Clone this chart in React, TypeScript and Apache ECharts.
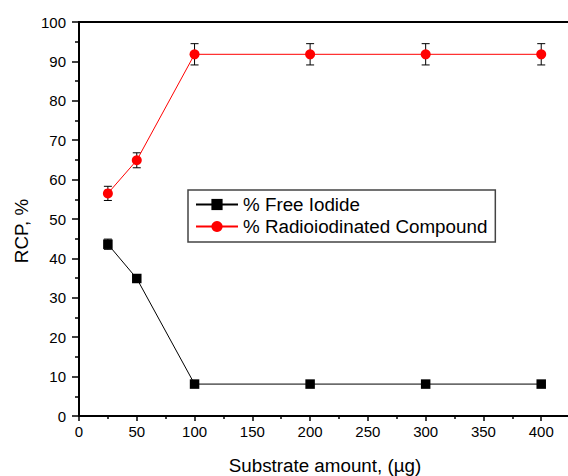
import React, { useEffect, useRef } from "react";
import * as echarts from "echarts";

const substrate = [25, 50, 100, 200, 300, 400];
const freeIodide = [43.6, 34.9, 8.1, 8.1, 8.1, 8.1];
const freeIodideErr = [1.3, 0.5, 0.3, 0.3, 0.3, 0.3];
const radioCompound = [56.5, 64.9, 91.8, 91.8, 91.8, 91.8];
const radioCompoundErr = [1.8, 1.9, 2.7, 2.7, 2.7, 2.7];
const seriesNames = ["% Free Iodide", "% Radioiodinated Compound"];
const xTitle = "Substrate amount, (\u00b5g)";
const yTitle = "RCP, %";

const FONT = "'Liberation Sans', Arial, sans-serif";

function errRender(params: any, api: any) {
  const x = api.value(0);
  const y = api.value(1);
  const e = api.value(2);
  const t = api.coord([x, y + e]);
  const b = api.coord([x, y - e]);
  const hw = 4;
  const st = { stroke: "#000", lineWidth: 1 };
  return {
    type: "group",
    children: [
      { type: "line", shape: { x1: t[0], y1: t[1], x2: b[0], y2: b[1] }, style: st },
      { type: "line", shape: { x1: t[0] - hw, y1: t[1], x2: t[0] + hw, y2: t[1] }, style: st },
      { type: "line", shape: { x1: b[0] - hw, y1: b[1], x2: b[0] + hw, y2: b[1] }, style: st },
    ],
  };
}

export default function App() {
  const ref = useRef<HTMLDivElement>(null);
  useEffect(() => {
    if (!ref.current) return;
    const chart = echarts.init(ref.current, null, { renderer: "svg" });
    const axisLine = { show: true, lineStyle: { color: "#000", width: 2 } };
    chart.setOption({
      animation: false,
      backgroundColor: "#fff",
      textStyle: { fontFamily: FONT },
      grid: {
        left: 79,
        top: 22,
        bottom: 60,
        right: -31,
        outerBoundsMode: "none",
        containLabel: false,
        show: true,
        borderColor: "#000",
        borderWidth: 2,
        backgroundColor: "transparent",
      },
      legend: {
        data: seriesNames,
        orient: "vertical",
        left: 188,
        top: 190,
        padding: [5, 8, 6, 7],
        itemWidth: 42,
        itemHeight: 14,
        itemGap: 3,
        borderColor: "#444",
        borderWidth: 1.5,
        textStyle: { fontSize: 18.8, color: "#000", fontFamily: FONT },
      },
      xAxis: {
        type: "value",
        min: 0,
        max: 450,
        interval: 50,
        axisLine,
        axisTick: { show: true, inside: false, length: 5, lineStyle: { color: "#000", width: 1.5 } },
        minorTick: { show: true, splitNumber: 2, length: 3, lineStyle: { color: "#000", width: 1.5 } },
        axisLabel: { fontSize: 15, color: "#000", margin: 8, showMaxLabel: false, fontFamily: FONT },
        splitLine: { show: false },
      },
      yAxis: {
        type: "value",
        min: 0,
        max: 100,
        interval: 10,
        axisLine,
        axisTick: { show: true, inside: false, length: 7, lineStyle: { color: "#000", width: 1.5 } },
        minorTick: { show: true, splitNumber: 2, length: 4, lineStyle: { color: "#000", width: 1.5 } },
        axisLabel: { fontSize: 15, color: "#000", margin: 13, fontFamily: FONT },
        splitLine: { show: false },
      },
      graphic: [
        {
          type: "text",
          x: 21,
          y: 231,
          rotation: Math.PI / 2,
          style: {
            text: yTitle,
            fontSize: 18.8,
            fill: "#000",
            fontFamily: FONT,
            align: "center",
            verticalAlign: "middle",
          },
        },
        {
          type: "text",
          x: 325,
          y: 465,
          style: {
            text: xTitle,
            fontSize: 18.8,
            fill: "#000",
            fontFamily: FONT,
            align: "center",
            verticalAlign: "middle",
          },
        },
      ],
      series: [
        {
          type: "custom",
          name: "errFree",
          renderItem: errRender,
          encode: { x: 0, y: 1 },
          data: substrate.map((x, i) => [x, freeIodide[i], freeIodideErr[i]]),
          z: 1,
          silent: true,
        },
        {
          type: "custom",
          name: "errRadio",
          renderItem: errRender,
          encode: { x: 0, y: 1 },
          data: substrate.map((x, i) => [x, radioCompound[i], radioCompoundErr[i]]),
          z: 1,
          silent: true,
        },
        {
          type: "line",
          name: seriesNames[0],
          data: substrate.map((x, i) => [x, freeIodide[i]]),
          symbol: "rect",
          symbolSize: 9.5,
          itemStyle: { color: "#000" },
          lineStyle: { color: "#000", width: 1 },
          z: 3,
        },
        {
          type: "line",
          name: seriesNames[1],
          data: substrate.map((x, i) => [x, radioCompound[i]]),
          symbol: "circle",
          symbolSize: 10,
          itemStyle: { color: "#ff0000" },
          lineStyle: { color: "#ff0000", width: 1 },
          z: 3,
        },
      ],
    });
    return () => chart.dispose();
  }, []);
  return (
    <div
      ref={ref}
      style={{ position: "absolute", left: 0, top: 0, width: 568, height: 476 }}
    />
  );
}
